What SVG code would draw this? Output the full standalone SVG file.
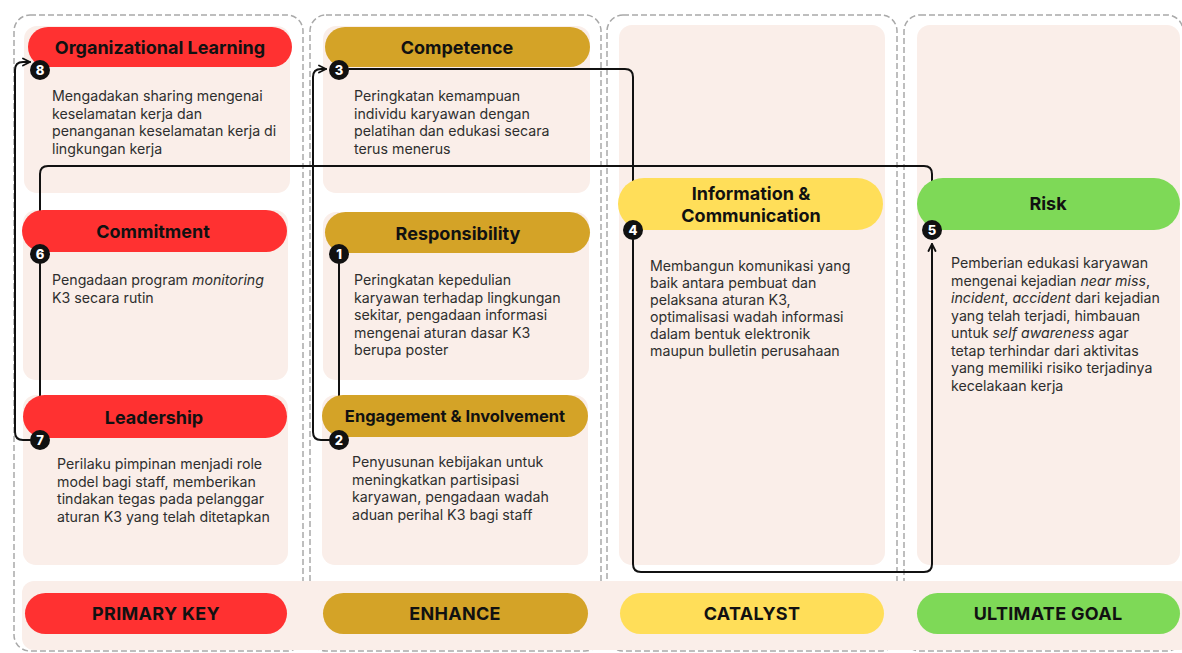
<svg xmlns="http://www.w3.org/2000/svg" width="1182" height="653" viewBox="0 0 1182 653">
  <defs>
    <style>
      .lane{fill:none;stroke:#a9a9a9;stroke-width:1.5;stroke-dasharray:6 3}
      .card{fill:#faeee9}
      .red{fill:#ff3131}
      .mustard{fill:#d4a327}
      .yellow{fill:#ffde59}
      .green{fill:#7ed957}
      .title{font-family:Inter,"Liberation Sans",sans-serif;font-weight:700;font-size:18px;fill:#111;text-anchor:middle;dominant-baseline:central}
      .body{font-family:Inter,"Liberation Sans",sans-serif;font-size:14.2px;fill:#2e2e2e}
      .legend{font-family:Inter,"Liberation Sans",sans-serif;font-weight:700;font-size:18px;fill:#111;text-anchor:middle;dominant-baseline:central;letter-spacing:0.3px}
      .flow{fill:none;stroke:#111;stroke-width:2;stroke-linejoin:round;stroke-linecap:round}
      .badge circle{fill:#111}
      .badge text{font-family:Inter,"Liberation Sans",sans-serif;font-weight:800;font-size:13px;fill:#fff;text-anchor:middle;dominant-baseline:central}
    </style>
    <marker id="arrow" viewBox="0 0 10 10" refX="8.5" refY="5" markerWidth="10" markerHeight="10" markerUnits="userSpaceOnUse" orient="auto">
      <path d="M1.5,1.5 L8.5,5 L1.5,8.5" fill="none" stroke="#111" stroke-width="1.8" stroke-linejoin="round" stroke-linecap="round"/>
    </marker>
  </defs>

  <!-- dashed lanes -->
  <g id="lanes">
    <rect class="lane" x="14" y="15" width="289" height="636" rx="16"/>
    <rect class="lane" x="310" y="15" width="291" height="636" rx="16"/>
    <rect class="lane" x="607" y="15" width="290" height="636" rx="16"/>
    <rect class="lane" x="904" y="15" width="279" height="636" rx="16"/>
  </g>

  <!-- legend band -->
  <rect class="card" x="22" y="581" width="1170" height="69" rx="12"/>

  <!-- card backgrounds -->
  <g id="cards">
    <rect class="card" x="24" y="26" width="266" height="167" rx="13"/>
    <rect class="card" x="23" y="210" width="265" height="170" rx="13"/>
    <rect class="card" x="23" y="395" width="265" height="170" rx="13"/>
    <rect class="card" x="323" y="26" width="267" height="167" rx="13"/>
    <rect class="card" x="323" y="212" width="266" height="168" rx="13"/>
    <rect class="card" x="322" y="395" width="266" height="170" rx="13"/>
    <rect class="card" x="619" y="25" width="266" height="540" rx="13"/>
    <rect class="card" x="917" y="25" width="263" height="540" rx="13"/>
  </g>

  <!-- flow connectors -->
  <g id="connectors">
    <path class="flow" d="M339,264 V426" marker-end="url(#arrow)"/>
    <path class="flow" d="M329,440 H321 Q313,440 313,432 V77 Q313,69 321,69 H326" marker-end="url(#arrow)"/>
    <path class="flow" d="M349,69 H625 Q633,69 633,77 V217" marker-end="url(#arrow)"/>
    <path class="flow" d="M633,240 V564 Q633,572 641,572 H924 Q932,572 932,564 V244" marker-end="url(#arrow)"/>
    <path class="flow" d="M932,220 V174 Q932,166 924,166 H48 Q40,166 40,174 V240" marker-end="url(#arrow)"/>
    <path class="flow" d="M40,264 V426" marker-end="url(#arrow)"/>
    <path class="flow" d="M30,440 H23 Q15,440 15,432 V70 Q15,62 23,62 H30" marker-end="url(#arrow)"/>
  </g>

  <g id="organizational-learning">
    <rect class="red" x="28" y="27" width="264" height="40" rx="20"/>
    <text class="title" x="160" y="47">Organizational Learning</text>
    <text class="body" x="52" y="101"><tspan x="52">Mengadakan sharing mengenai</tspan><tspan x="52" dy="17.5">keselamatan kerja dan</tspan><tspan x="52" dy="17.5">penanganan keselamatan kerja di</tspan><tspan x="52" dy="17.5">lingkungan kerja</tspan></text>
    <g class="badge"><circle cx="40" cy="70" r="10"/><text x="40" y="70">8</text></g>
  </g>

  <g id="commitment">
    <rect class="red" x="22" y="210" width="265" height="42" rx="21"/>
    <text class="title" x="153" y="231">Commitment</text>
    <text class="body" x="52" y="285"><tspan x="52">Pengadaan program <tspan font-style="italic">monitoring</tspan></tspan><tspan x="52" dy="17.5">K3 secara rutin</tspan></text>
    <g class="badge"><circle cx="40" cy="254" r="10"/><text x="40" y="254">6</text></g>
  </g>

  <g id="leadership">
    <rect class="red" x="23" y="395" width="264" height="43" rx="21.5"/>
    <text class="title" x="154" y="417">Leadership</text>
    <text class="body" x="57" y="469"><tspan x="57">Perilaku pimpinan menjadi role</tspan><tspan x="57" dy="17.5">model bagi staff, memberikan</tspan><tspan x="57" dy="17.5">tindakan tegas pada pelanggar</tspan><tspan x="57" dy="17.5">aturan K3 yang telah ditetapkan</tspan></text>
    <g class="badge"><circle cx="40" cy="440" r="10"/><text x="40" y="440">7</text></g>
  </g>

  <g id="competence">
    <rect class="mustard" x="325" y="27" width="265" height="40" rx="20"/>
    <text class="title" x="457" y="47">Competence</text>
    <text class="body" x="354" y="101"><tspan x="354">Peringkatan kemampuan</tspan><tspan x="354" dy="17.5">individu karyawan dengan</tspan><tspan x="354" dy="17.5">pelatihan dan edukasi secara</tspan><tspan x="354" dy="17.5">terus menerus</tspan></text>
    <g class="badge"><circle cx="339" cy="70" r="10"/><text x="339" y="70">3</text></g>
  </g>

  <g id="responsibility">
    <rect class="mustard" x="325" y="212" width="265" height="41" rx="20.5"/>
    <text class="title" x="458" y="233">Responsibility</text>
    <text class="body" x="354" y="285"><tspan x="354">Peringkatan kepedulian</tspan><tspan x="354" dy="17.5">karyawan terhadap lingkungan</tspan><tspan x="354" dy="17.5">sekitar, pengadaan informasi</tspan><tspan x="354" dy="17.5">mengenai aturan dasar K3</tspan><tspan x="354" dy="17.5">berupa poster</tspan></text>
    <g class="badge"><circle cx="339" cy="254" r="10"/><text x="339" y="254">1</text></g>
  </g>

  <g id="engagement-involvement">
    <rect class="mustard" x="322" y="395" width="266" height="42" rx="21"/>
    <text class="title" x="455" y="416" style="font-size:16.5px">Engagement &amp; Involvement</text>
    <text class="body" x="352" y="467"><tspan x="352">Penyusunan kebijakan untuk</tspan><tspan x="352" dy="17.5">meningkatkan partisipasi</tspan><tspan x="352" dy="17.5">karyawan, pengadaan wadah</tspan><tspan x="352" dy="17.5">aduan perihal K3 bagi staff</tspan></text>
    <g class="badge"><circle cx="339" cy="440" r="10"/><text x="339" y="440">2</text></g>
  </g>

  <g id="information-communication">
    <rect class="yellow" x="618" y="178" width="265" height="52" rx="26"/>
    <text class="title" x="751" y="193">Information &amp;</text>
    <text class="title" x="751" y="215">Communication</text>
    <text class="body" x="650" y="271"><tspan x="650">Membangun komunikasi yang</tspan><tspan x="650" dy="17">baik antara pembuat dan</tspan><tspan x="650" dy="17">pelaksana aturan K3,</tspan><tspan x="650" dy="17">optimalisasi wadah informasi</tspan><tspan x="650" dy="17">dalam bentuk elektronik</tspan><tspan x="650" dy="17">maupun bulletin perusahaan</tspan></text>
    <g class="badge"><circle cx="633" cy="230" r="10"/><text x="633" y="230">4</text></g>
  </g>

  <g id="risk">
    <rect class="green" x="917" y="178" width="263" height="52" rx="26"/>
    <text class="title" x="1048" y="203">Risk</text>
    <text class="body" x="951" y="268"><tspan x="951">Pemberian edukasi karyawan</tspan><tspan x="951" dy="17.5">mengenai kejadian <tspan font-style="italic">near miss</tspan>,</tspan><tspan x="951" dy="17.5"><tspan font-style="italic">incident</tspan>, <tspan font-style="italic">accident</tspan> dari kejadian</tspan><tspan x="951" dy="17.5">yang telah terjadi, himbauan</tspan><tspan x="951" dy="17.5">untuk <tspan font-style="italic">self awareness</tspan> agar</tspan><tspan x="951" dy="17.5">tetap terhindar dari aktivitas</tspan><tspan x="951" dy="17.5">yang memiliki risiko terjadinya</tspan><tspan x="951" dy="17.5">kecelakaan kerja</tspan></text>
    <g class="badge"><circle cx="932" cy="230" r="10"/><text x="932" y="230">5</text></g>
  </g>

  <!-- legend pills -->
  <g id="legend">
    <rect class="red" x="25" y="593" width="262" height="41" rx="20.5"/>
    <text class="legend" x="156" y="613.5">PRIMARY KEY</text>
    <rect class="mustard" x="323" y="593" width="265" height="41" rx="20.5"/>
    <text class="legend" x="455" y="613.5">ENHANCE</text>
    <rect class="yellow" x="620" y="593" width="264" height="41" rx="20.5"/>
    <text class="legend" x="752" y="613.5">CATALYST</text>
    <rect class="green" x="917" y="593" width="263" height="41" rx="20.5"/>
    <text class="legend" x="1048" y="613.5">ULTIMATE GOAL</text>
  </g>
</svg>
